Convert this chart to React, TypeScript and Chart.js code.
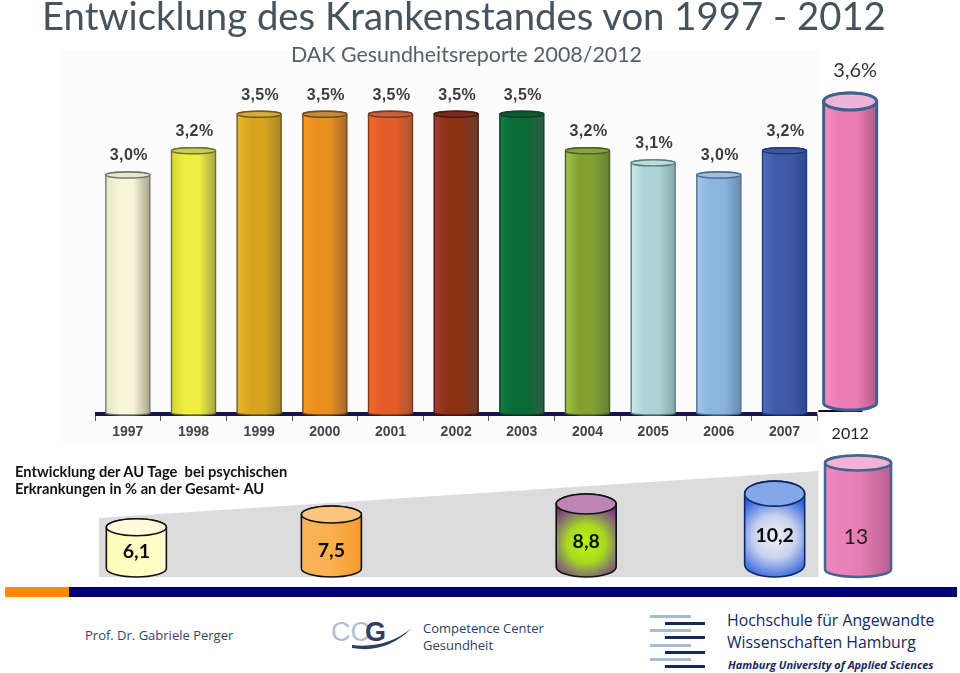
import React, { useEffect, useRef } from "react";
import { Chart, registerables } from "chart.js";

Chart.register(...registerables);

// ---- data
const years = ["1997", "1998", "1999", "2000", "2001", "2002", "2003", "2004", "2005", "2006", "2007", "2012"];
const sickLeave = [3.0, 3.2, 3.5, 3.5, 3.5, 3.5, 3.5, 3.2, 3.1, 3.0, 3.2, null];
const sickLeave2012 = [null, null, null, null, null, null, null, null, null, null, null, 3.6];

const psychSlots = [0.13, 3.1, 6.98, 9.85];
const psychValues = [6.1, 7.5, 8.8, 10.2];
const psychSlot2012 = [11.12];
const psychValue2012 = [13];
const wedgeSlots = [-0.44, 10.52];
const wedgeValues = [6.19, 11.3];

// ---- styles
const barStops = [
  ["#e6e6c4", "#f7f6da", "#a8a78c"],
  ["#d6d82e", "#efee42", "#a5a947"],
  ["#e9b82c", "#d8a41f", "#a5842c"],
  ["#f99a22", "#e98f20", "#a66a2c"],
  ["#f4662a", "#e25d28", "#a85632"],
  ["#a23c32", "#8c3112", "#6c3d2c"],
  ["#117c42", "#0b6a36", "#2f5c44"],
  ["#a2c644", "#84a032", "#667f3a"],
  ["#cdeaeb", "#acd4d6", "#84a9a9"],
  ["#a2c8ea", "#8ab5de", "#6a8cb0"],
  ["#4c6cbc", "#3e5aa8", "#2f4a90"],
  ["#f98cc2", "#ea7db2", "#b45a8a"],
];
const capFills = ["#e8e8cc", "#c9cc55", "#d7ad35", "#c98a35", "#c9603a", "#7a2a1e", "#0d5a32", "#8aa53e", "#bcdcdc", "#9cc0e0", "#3d58a0", "#eeb4d8"];
const capStrokes = ["#77776a", "#6f7330", "#6e5a18", "#6e4a1c", "#7a3a20", "#4c1a10", "#103e26", "#4c6024", "#5c7c7c", "#4c6c90", "#223a78", "#3f6090"];

const cylinderStyles = [
  { cap: "#fffbdc", stroke: "#111111" },
  { cap: "#fcc47e", stroke: "#111111" },
  { cap: "#bc85b4", stroke: "#111111" },
  { cap: "#86a6ea", stroke: "#0b2a66" },
];
const cylinderRy = [8.5, 8.5, 10, 12.5];
const cylinderTextRise = [0.43, 0.37, 0.42, 0.43];

const titleFont = 'Lato, "Open Sans", sans-serif';
const footFont = '"Open Sans", "Noto Sans", sans-serif';

const comma = (v: number) => String(v).replace(".", ",");

function cylinderPath(c: any, x: number, w: number, top: number, bottom: number, ry: number, rb: number) {
  const r = w / 2;
  c.moveTo(x - r, top + ry);
  c.ellipse(x, top + ry, r, ry, 0, Math.PI, 2 * Math.PI);
  c.lineTo(x + r, bottom - rb);
  c.ellipse(x, bottom - rb, r, rb, 0, 0, Math.PI);
  c.closePath();
}

// Clips the library's bars to cylinder shapes, then adds the caps and outlines.
const cylinderPlugin = {
  id: "cylinder",
  beforeDatasetDraw(chart: any, args: any) {
    if (args.meta.type !== "bar") return;
    const c = chart.ctx;
    const ds = chart.data.datasets[args.index];
    c.save();
    c.beginPath();
    args.meta.data.forEach((el: any, i: number) => {
      if (el.skip || ds.data[i] == null) return;
      const s = ds.cyl(i);
      cylinderPath(c, el.x, el.width, el.y, s.bottom ?? el.base, s.ry, s.rb);
    });
    c.clip();
  },
  afterDatasetDraw(chart: any, args: any) {
    if (args.meta.type !== "bar") return;
    const c = chart.ctx;
    c.restore();
    const ds = chart.data.datasets[args.index];
    args.meta.data.forEach((el: any, i: number) => {
      if (el.skip || ds.data[i] == null) return;
      const s = ds.cyl(i);
      const bottom = s.bottom ?? el.base;
      c.save();
      c.lineWidth = s.lw;
      c.strokeStyle = s.stroke;
      c.beginPath();
      cylinderPath(c, el.x, el.width, el.y, bottom, s.ry, s.rb);
      c.stroke();
      c.beginPath();
      c.ellipse(el.x, el.y + s.ry, el.width / 2, s.ry, 0, 0, 2 * Math.PI);
      c.fillStyle = s.cap;
      c.fill();
      c.stroke();
      if (s.text) {
        c.font = s.font;
        c.fillStyle = s.color;
        c.textAlign = "center";
        c.textBaseline = "middle";
        if (s.spacing) c.letterSpacing = s.spacing;
        c.fillText(s.text, el.x + (s.dx ?? 0), s.textY(el));
      }
      c.restore();
    });
  },
};

const axisPlugin = {
  id: "axisLines",
  beforeDatasetsDraw(chart: any) {
    const c = chart.ctx;
    const x = chart.scales.x;
    const first = x.getPixelForValue(0) - (x.getPixelForValue(1) - x.getPixelForValue(0)) / 2;
    const step = x.getPixelForValue(1) - x.getPixelForValue(0);
    const y = chart.chartArea.bottom;
    c.save();
    c.fillStyle = "#16164f";
    c.fillRect(first, y - 3, step * 11, 4);
    c.fillStyle = "#111111";
    c.fillRect(first + step * 11 + 1, y - 5, 44, 2);
    c.restore();
  },
};

function barGradient(ctx: any) {
  const chart = ctx.chart;
  const i = ctx.dataIndex;
  const stops = barStops[i];
  const x = chart.scales.x;
  if (!stops) return "#888888";
  const w = i === 11 ? 53 : 44;
  const cx = x ? x.getPixelForValue(i) : NaN;
  if (!Number.isFinite(cx)) return stops[1];
  const g = chart.ctx.createLinearGradient(cx - w / 2, 0, cx + w / 2, 0);
  g.addColorStop(0, stops[0]);
  g.addColorStop(0.3, stops[1]);
  g.addColorStop(0.62, stops[1]);
  g.addColorStop(1, stops[2]);
  return g;
}

function psychFill(ctx: any) {
  const chart = ctx.chart;
  const i = ctx.dataIndex;
  const x = chart.scales.x;
  const y = chart.scales.y;
  if (i === undefined || !x || !y) return "#ffffc0";
  const cx = x.getPixelForValue(psychSlots[i]);
  const top = y.getPixelForValue(psychValues[i]);
  const bottom = y.bottom;
  if (!Number.isFinite(cx) || !Number.isFinite(top) || !Number.isFinite(bottom)) return "#ffffc0";
  if (i === 0) {
    const g = chart.ctx.createLinearGradient(cx - 30, 0, cx + 30, 0);
    g.addColorStop(0, "#fdfdb8");
    g.addColorStop(1, "#ffffcc");
    return g;
  }
  if (i === 1) {
    const g = chart.ctx.createLinearGradient(cx - 30, 0, cx + 30, 0);
    g.addColorStop(0, "#fbb35a");
    g.addColorStop(0.5, "#fbb050");
    g.addColorStop(1, "#f59a2c");
    return g;
  }
  const cy = (top + bottom) / 2 + 8;
  const g = chart.ctx.createRadialGradient(cx, cy, 6, cx, cy, 44);
  if (i === 2) {
    g.addColorStop(0, "#b4f00c");
    g.addColorStop(0.35, "#a8d820");
    g.addColorStop(0.62, "#8c8c60");
    g.addColorStop(1, "#7a2e84");
  } else {
    g.addColorStop(0, "#e6e8f2");
    g.addColorStop(0.4, "#c8d2ee");
    g.addColorStop(1, "#2f62dc");
  }
  return g;
}

function pinkFill(ctx: any) {
  const x = ctx.chart.scales.x;
  const cx = x ? x.getPixelForValue(psychSlot2012[0]) : NaN;
  if (!Number.isFinite(cx)) return "#e97fb4";
  const g = ctx.chart.ctx.createLinearGradient(cx - 33, 0, cx + 33, 0);
  g.addColorStop(0, "#ef86bd");
  g.addColorStop(0.55, "#e57cb3");
  g.addColorStop(1, "#b8608f");
  return g;
}

const S: Record<string, React.CSSProperties> = {
  text: { position: "absolute", whiteSpace: "pre", margin: 0 },
};

function Text(p: { x: number; y: number; size: number; color: string; font?: string; bold?: boolean; italic?: boolean; children: string; spacing?: number }) {
  return (
    <div
      style={{
        ...S.text,
        left: p.x,
        top: p.y,
        lineHeight: 1,
        fontSize: p.size,
        color: p.color,
        fontFamily: p.font ?? titleFont,
        fontWeight: p.bold ? 700 : 400,
        fontStyle: p.italic ? "italic" : "normal",
        letterSpacing: p.spacing ?? 0,
      }}
    >
      {p.children}
    </div>
  );
}

const hawStripes = [616, 630.5, 645, 659];

export default function App() {
  const topRef = useRef<HTMLCanvasElement>(null);
  const bottomRef = useRef<HTMLCanvasElement>(null);

  useEffect(() => {
    const topChart = new Chart(topRef.current as any, {
      type: "bar",
      plugins: [axisPlugin, cylinderPlugin],
      data: {
        labels: years,
        datasets: [
          {
            label: "Krankenstand",
            data: sickLeave,
            yAxisID: "y",
            base: 1,
            grouped: false,
            barThickness: 44,
            backgroundColor: barGradient,
            borderWidth: 0,
            clip: false,
            cyl: (i: number) => ({
              ry: 3,
              rb: 2,
              lw: 1.4,
              stroke: capStrokes[i],
              cap: capFills[i],
              text: (sickLeave[i] as number).toFixed(1).replace(".", ",") + "%",
              font: 'bold 16px "Liberation Sans", Arial, sans-serif',
              spacing: "0.4px",
              color: "#3c3c3c",
              dx: 1,
              textY: (el: any) => el.y - 16,
            }),
          } as any,
          {
            label: "Krankenstand 2012",
            data: sickLeave2012,
            yAxisID: "y2",
            base: 0.99,
            grouped: false,
            barThickness: 53,
            backgroundColor: barGradient,
            borderWidth: 0,
            clip: false,
            cyl: (i: number) => ({
              ry: 8.5,
              rb: 7,
              lw: 3,
              stroke: capStrokes[i],
              cap: capFills[i],
              text: comma(sickLeave2012[i] as number) + "%",
              font: `20px ${titleFont}`,
              color: "#333333",
              dx: 5,
              textY: (el: any) => el.y - 22,
            }),
          } as any,
        ],
      },
      options: {
        animation: false,
        responsive: false,
        layout: { padding: { left: 95, right: 77, top: 0, bottom: 0 } },
        plugins: { legend: { display: false }, tooltip: { enabled: false } },
        scales: {
          x: {
            type: "category",
            afterFit: (s: any) => {
              s.height = 35;
            },
            grid: {
              offset: true,
              drawOnChartArea: false,
              tickLength: 6,
              tickColor: (c: any) => (c.index <= 11 ? "#555555" : "transparent"),
            },
            border: { display: false },
            ticks: {
              maxRotation: 0,
              autoSkip: false,
              padding: 3,
              color: (c: any) => (c.index === 11 ? "#222222" : "#444444"),
              font: (c: any) =>
                c.index === 11
                  ? { family: titleFont, size: 16, weight: "normal" }
                  : { family: '"Liberation Sans", Arial, sans-serif', size: 14, weight: "bold" },
            },
          } as any,
          y: { display: false, min: 1, max: 4.416 },
          y2: { display: false, min: 0.949, max: 4.365 },
        },
      },
    } as any);

    const bottomChart = new Chart(bottomRef.current as any, {
      type: "bar",
      plugins: [cylinderPlugin],
      data: {
        datasets: [
          {
            type: "line",
            label: "Anstieg",
            data: wedgeSlots.map((x, i) => ({ x, y: wedgeValues[i] })),
            fill: "start",
            backgroundColor: "#dcdcdc",
            borderWidth: 0,
            pointRadius: 0,
            tension: 0,
            order: 3,
            clip: false,
          } as any,
          {
            label: "Psychische Erkrankungen",
            data: psychSlots.map((x, i) => ({ x, y: psychValues[i] })),
            grouped: false,
            barThickness: 60,
            base: -0.24,
            order: 1,
            backgroundColor: psychFill,
            borderWidth: 0,
            clip: false,
            cyl: (i: number) => ({
              ry: cylinderRy[i],
              rb: cylinderRy[i],
              lw: 1.6,
              stroke: cylinderStyles[i].stroke,
              cap: cylinderStyles[i].cap,
              text: comma(psychValues[i]),
              font: `bold 19.5px ${titleFont}`,
              color: "#0c0c0c",
              textY: (el: any) => el.base - (el.base - el.y) * cylinderTextRise[i],
            }),
          } as any,
          {
            label: "Psychische Erkrankungen 2012",
            data: psychSlot2012.map((x, i) => ({ x, y: psychValue2012[i] })),
            grouped: false,
            barThickness: 66,
            base: -0.24,
            order: 1,
            backgroundColor: pinkFill,
            borderWidth: 0,
            clip: false,
            cyl: (i: number) => ({
              ry: 7.5,
              rb: 7.5,
              lw: 2.6,
              stroke: "#456590",
              cap: "#f0b2d6",
              text: comma(psychValue2012[i]),
              font: `21px ${titleFont}`,
              color: "#222222",
              dx: -2,
              textY: (el: any) => el.base - (el.base - el.y) * 0.33,
            }),
          } as any,
        ],
      },
      options: {
        animation: false,
        responsive: false,
        layout: { padding: { left: 95, right: 77, top: 0, bottom: 13 } },
        plugins: { legend: { display: false }, tooltip: { enabled: false } },
        scales: {
          x: { type: "linear", display: false, offset: false, min: -0.5, max: 11.5 },
          y: { display: false, min: -0.24, max: 14.68 },
        },
      },
    } as any);

    return () => {
      topChart.destroy();
      bottomChart.destroy();
    };
  }, []);

  return (
    <div style={{ position: "absolute", left: 0, top: 0, width: 960, height: 673, overflow: "hidden", background: "#ffffff" }}>
      <div style={{ position: "absolute", left: 60, top: 50, width: 760, height: 395, background: "#fcfcfc" }} />
      <canvas ref={topRef} width={960} height={450} style={{ position: "absolute", left: 0, top: 0, width: 960, height: 450 }} />
      <canvas ref={bottomRef} width={960} height={150} style={{ position: "absolute", left: 0, top: 440, width: 960, height: 150 }} />

      <Text x={42} y={-4} size={38.3} color="#46525c">Entwicklung des Krankenstandes von 1997 - 2012</Text>
      <Text x={291} y={44} size={21.4} color="#55606a">DAK Gesundheitsreporte 2008/2012</Text>
      <Text x={15} y={464} size={14.7} color="#111111" bold>Entwicklung der AU Tage  bei psychischen</Text>
      <Text x={15} y={481} size={14.7} color="#111111" bold>Erkrankungen in % an der Gesamt- AU</Text>

      <div style={{ position: "absolute", left: 5, top: 587, width: 64, height: 9.5, background: "#ff8a0c" }} />
      <div style={{ position: "absolute", left: 69, top: 587, width: 888, height: 9.5, background: "#000073" }} />

      <Text x={85} y={629} size={13} color="#34465e" font={footFont}>Prof. Dr. Gabriele Perger</Text>

      <svg width={90} height={50} style={{ position: "absolute", left: 328, top: 612 }}>
        <text x={3} y={29} fontFamily='"Liberation Sans", sans-serif' fontSize={27} fill="#b3bdd0">CC</text>
        <text x={37} y={29} fontFamily='"Liberation Sans", sans-serif' fontWeight="bold" fontSize={27} fill="#2f3f60">G</text>
        <path d="M24 36 Q58 42 84 16 Q58 37 24 33 Z" fill="#2f3f60" />
      </svg>
      <Text x={423} y={622} size={13} color="#2e4060" font={footFont}>Competence Center</Text>
      <Text x={423} y={639} size={13} color="#2e4060" font={footFont}>Gesundheit</Text>

      {hawStripes.map((y) => (
        <React.Fragment key={y}>
          <div style={{ position: "absolute", left: 650, top: y - 1.5, width: 41, height: 3, background: "#a4bcd8" }} />
          <div style={{ position: "absolute", left: 665, top: y + 5.5, width: 40, height: 3, background: "#14285e" }} />
        </React.Fragment>
      ))}
      <Text x={727} y={613} size={15.8} color="#14285a" font={footFont}>Hochschule für Angewandte</Text>
      <Text x={727} y={635} size={15.8} color="#14285a" font={footFont}>Wissenschaften Hamburg</Text>
      <Text x={728} y={659} size={11} color="#14285a" font={footFont} bold italic>Hamburg University of Applied Sciences</Text>
    </div>
  );
}
